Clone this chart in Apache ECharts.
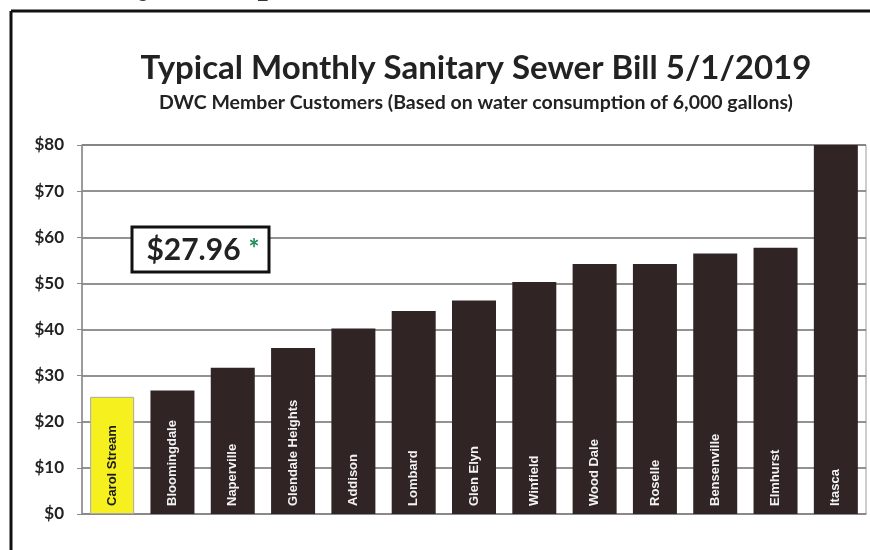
<!DOCTYPE html>
<html>
<head>
<meta charset="utf-8">
<title>Typical Monthly Sanitary Sewer Bill</title>
<script src="https://cdn.jsdelivr.net/npm/echarts@6/dist/echarts.min.js"></script>
<style>
  html, body { margin: 0; padding: 0; background: #fff; }
  #chart { width: 870px; height: 550px; }
</style>
</head>
<body>
<div id="chart"></div>
<script>
// data
var towns = ['Carol Stream', 'Bloomingdale', 'Naperville', 'Glendale Heights', 'Addison', 'Lombard',
             'Glen Elyn', 'Winfield', 'Wood Dale', 'Roselle', 'Bensenville', 'Elmhurst', 'Itasca'];
var bills = [25.4, 26.8, 31.7, 36.0, 40.2, 44.0, 46.3, 50.3, 54.2, 54.2, 56.5, 57.7, 88];
var yTicks = [0, 10, 20, 30, 40, 50, 60, 70, 80];
var highlightTown = 'Carol Stream';
var noteValue = '$27.96';

var chart = echarts.init(document.getElementById('chart'));

var barData = towns.map(function (t, i) {
    var own = t === highlightTown;
    return {
        value: bills[i],
        itemStyle: own ? {color: '#f6f01f', borderColor: '#a8a8a8', borderWidth: 1} : {color: '#302424'},
        label: own ? {color: '#1a1a1a'} : {}
    };
});

var option = {
    animation: false,
    backgroundColor: '#fff',
    title: [{
        text: 'Typical Monthly Sanitary Sewer Bill 5/1/2019',
        left: 471,
        top: 47,
        textAlign: 'center',
        textStyle: {fontFamily: 'Lato', fontWeight: 'bold', fontSize: 33, color: '#222'}
    }, {
        text: 'DWC Member Customers (Based on water consumption of 6,000 gallons)',
        left: 471,
        top: 88,
        textAlign: 'center',
        textStyle: {fontFamily: 'Lato', fontWeight: 'bold', fontSize: 19.5, color: '#222'}
    }],
    grid: {
        left: 82, right: 4, top: 145, bottom: 36,
        show: true, borderColor: '#9a9a9a', borderWidth: 1
    },
    xAxis: {
        type: 'category',
        data: towns,
        axisTick: {show: false},
        axisLabel: {show: false},
        axisLine: {lineStyle: {color: '#8a8a8a', width: 1.5}}
    },
    yAxis: {
        type: 'value',
        min: yTicks[0],
        max: yTicks[yTicks.length - 1],
        interval: 10,
        axisLine: {show: true, lineStyle: {color: '#8a8a8a', width: 1.5}},
        axisTick: {show: true, length: 5, lineStyle: {color: '#8a8a8a'}},
        splitLine: {lineStyle: {color: '#6e6e6e', width: 1.5}},
        axisLabel: {
            formatter: function (v) { return '$' + v; },
            margin: 18,
            fontFamily: 'Lato', fontWeight: 'bold', fontSize: 17, color: '#222'
        }
    },
    series: [{
        type: 'bar',
        data: barData,
        barWidth: 44,
        clip: true,
        label: {
            show: true,
            position: 'insideBottom',
            distance: 8,
            rotate: 90,
            align: 'left',
            verticalAlign: 'middle',
            formatter: '{b}',
            fontFamily: 'Liberation Sans',
            fontWeight: 'bold',
            fontSize: 13,
            color: '#f2f2f2'
        }
    }],
    graphic: [
        // frame of the slide
        {type: 'line', shape: {x1: 11, y1: 11, x2: 870, y2: 11}, style: {stroke: '#111', lineWidth: 3}},
        {type: 'line', shape: {x1: 11, y1: 11, x2: 11, y2: 550}, style: {stroke: '#111', lineWidth: 3}},
        // cut off heading above the frame
        {type: 'text', left: 14, top: -42,
         style: {text: 'Sanitary Comparison', font: '44px "Liberation Serif"', fill: '#333'}},
        // price call-out
        {type: 'rect', shape: {x: 132, y: 227, width: 137, height: 45},
         style: {fill: '#fff', stroke: '#111', lineWidth: 3}, z: 10},
        {type: 'text', x: 203, y: 250, z: 11,
         style: {
             text: '{a|' + noteValue + '}{b|*}',
             align: 'center', verticalAlign: 'middle',
             rich: {
                 a: {fontFamily: 'Lato', fontWeight: 'bold', fontSize: 30, fill: '#222'},
                 b: {fontFamily: 'Lato', fontWeight: 'bold', fontSize: 26, fill: '#1f8a5c', padding: [0, 0, 0, 8]}
             }
         }}
    ]
};

chart.setOption(option);
</script>
</body>
</html>
